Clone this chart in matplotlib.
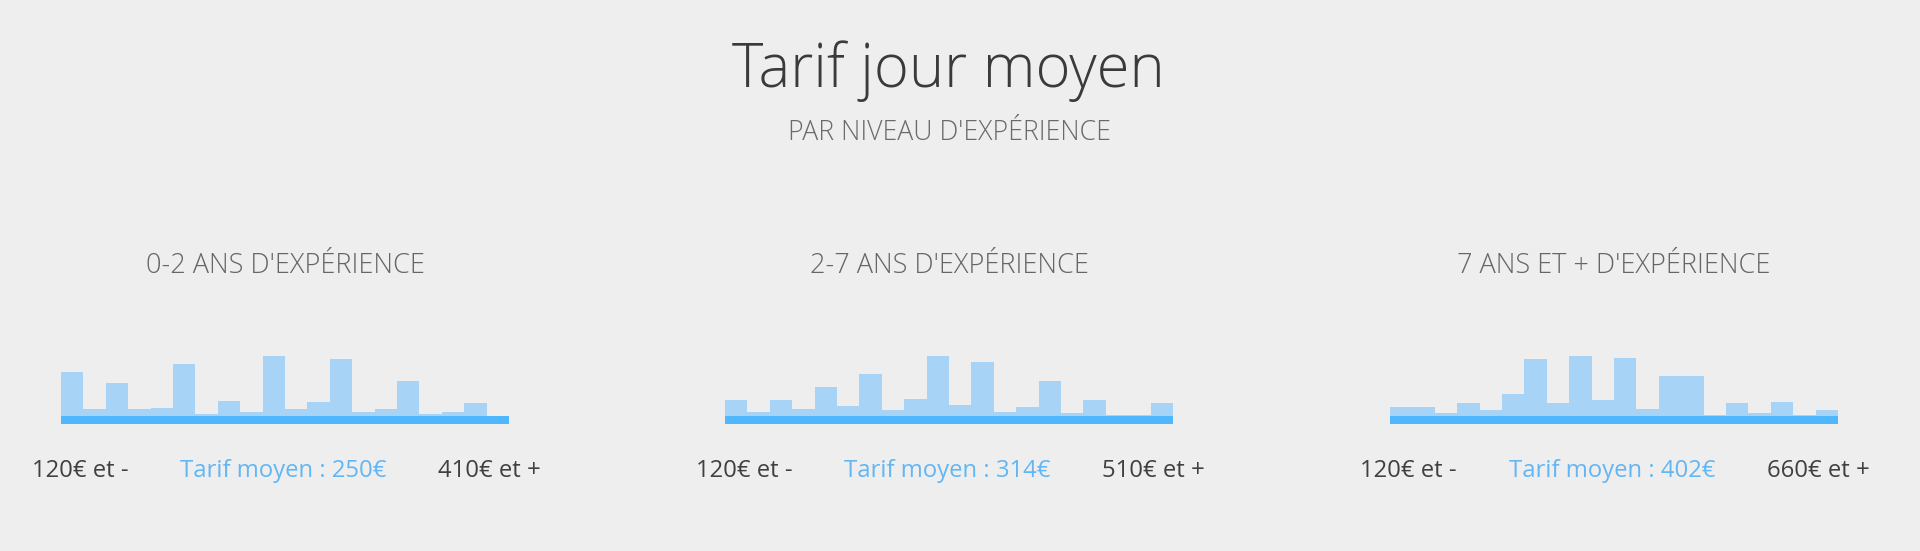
import matplotlib
matplotlib.use("Agg")
import matplotlib.pyplot as plt
from matplotlib import font_manager
from matplotlib.font_manager import FontProperties
import numpy as np

# ---- data ----
panel_titles = ["0-2 ANS D'EXPÉRIENCE", "2-7 ANS D'EXPÉRIENCE", "7 ANS ET + D'EXPÉRIENCE"]
low_labels = ["120€ et -", "120€ et -", "120€ et -"]
mean_labels = ["Tarif moyen : 250€", "Tarif moyen : 314€", "Tarif moyen : 402€"]
high_labels = ["410€ et +", "510€ et +", "660€ et +"]

dist_0_2 = [44.3, 6.7, 32.7, 7.3, 8.3, 51.7, 1.7, 14.7, 4.3, 60.0,
            6.7, 13.7, 56.7, 4.3, 6.7, 34.7, 1.7, 3.7, 13.0, 0.0]
dist_2_7 = [16.0, 4.0, 16.0, 6.7, 29.3, 10.0, 42.3, 6.0, 17.3, 60.0,
            11.0, 54.3, 4.3, 9.3, 34.7, 3.0, 16.0, 0.7, 0.7, 13.0]
dist_7p = [8.7, 8.7, 3.0, 13.0, 6.0, 21.7, 56.7, 13.0, 60.0, 15.7,
           58.3, 6.7, 39.7, 40.3, 0.7, 13.0, 3.0, 13.7, 0.7, 6.3]
dists = [dist_0_2, dist_2_7, dist_7p]

# ---- layout (pixels) ----
W, H = 1920, 551
BG = "#eeeeee"
BAR = "#a7d4f6"
BAND = "#4fb8fc"
BLUE_TXT = "#62b6f3"

fig = plt.figure(figsize=(W / 100, H / 100), dpi=100, facecolor=BG)

def fx(x):
    return x / W

def fy(y):
    return 1 - y / H

FONT = "Open Sans"

def light_props(size):
    for f in font_manager.fontManager.ttflist:
        if f.fname.endswith("OpenSans-Light.ttf"):
            return FontProperties(fname=f.fname, size=size)
    return FontProperties(family=FONT, weight="light", size=size)

fig.text(fx(948), fy(87), "Tarif jour moyen", ha="center", va="baseline",
         fontproperties=light_props(43), color="#3a3a3a")
fig.text(fx(949.5), fy(140), "PAR NIVEAU D'EXPÉRIENCE", ha="center", va="baseline",
         fontproperties=light_props(19.2), color="#6a6a6a")

panel_left = [61, 725, 1390]
panel_w = 448
band_h = 8
top_px = 340
band_bottom = 424

for i in range(3):
    left = panel_left[i]
    right = left + panel_w
    ax = fig.add_axes([fx(left), fy(band_bottom), panel_w / W, (band_bottom - top_px) / H])
    ax.set_facecolor("none")
    vals = dists[i]
    n = len(vals)
    ax.bar(np.arange(n), vals, width=1.0, align="edge", color=BAR, edgecolor="none", zorder=1)
    ax.axhspan(-band_h, 0, color=BAND, zorder=2, lw=0)
    ax.set_xlim(0, n)
    ax.set_ylim(-band_h, band_bottom - top_px - band_h)
    ax.axis("off")

    cx = left + panel_w / 2
    fig.text(fx(cx), fy(273), panel_titles[i], ha="center", va="baseline",
             fontproperties=light_props(19.5), color="#666666")

    fig.text(fx(left - 29.5), fy(477), low_labels[i], ha="left", va="baseline",
             fontsize=17.2, family=FONT, color="#404040")
    fig.text(fx(cx - 1.5), fy(477), mean_labels[i], ha="center", va="baseline",
             fontsize=17.2, family=FONT, color=BLUE_TXT)
    fig.text(fx(right + 32), fy(477), high_labels[i], ha="right", va="baseline",
             fontsize=17.2, family=FONT, color="#404040")

fig.savefig("out.png", dpi=100, facecolor=BG)
